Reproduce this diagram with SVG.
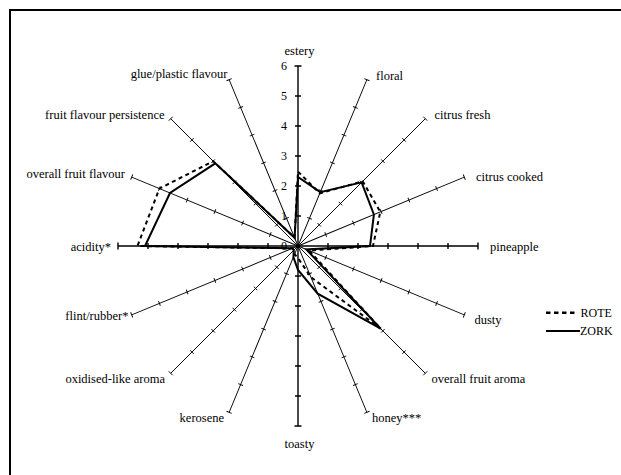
<svg xmlns="http://www.w3.org/2000/svg" xmlns:xlink="http://www.w3.org/1999/xlink" width="621" height="475" viewBox="0 0 621 475">
<style>
text{font-family:"Liberation Serif","Times New Roman",serif;font-size:12.5px;fill:#000}
.sc{font-size:12px}
.ax{stroke:#000;stroke-width:0.9;fill:none}
.axm{stroke:#000;stroke-width:1.4;fill:none}
.zork{fill:none;stroke:#000;stroke-width:2;stroke-linejoin:miter}
.rote{fill:none;stroke:#000;stroke-width:2;stroke-dasharray:4 3.5}
</style>
<defs>
<g id="axis">
<path class="ax" d="M0,0H180M30,-2.5V2.5M60,-2.5V2.5M90,-2.5V2.5M120,-2.5V2.5M150,-2.5V2.5M180,-2.8V2.8"/>
</g>
<g id="axisM">
<path class="axm" d="M0,0H180M30,-3V3M60,-3V3M90,-3V3M120,-3V3M150,-3V3M180,-3.5V3.5"/>
</g>
</defs>
<rect x="10" y="10" width="640" height="500" fill="#fff" stroke="#000" stroke-width="2"/>
<g id="axes">
<use xlink:href="#axisM" transform="translate(298,246) rotate(-90)"/>
<use xlink:href="#axis" transform="translate(298,246) rotate(-67.5)"/>
<use xlink:href="#axis" transform="translate(298,246) rotate(-45)"/>
<use xlink:href="#axis" transform="translate(298,246) rotate(-22.5)"/>
<use xlink:href="#axisM" transform="translate(298,246) rotate(0)"/>
<use xlink:href="#axis" transform="translate(298,246) rotate(22.5)"/>
<use xlink:href="#axis" transform="translate(298,246) rotate(45)"/>
<use xlink:href="#axis" transform="translate(298,246) rotate(67.5)"/>
<use xlink:href="#axisM" transform="translate(298,246) rotate(90)"/>
<use xlink:href="#axis" transform="translate(298,246) rotate(112.5)"/>
<use xlink:href="#axis" transform="translate(298,246) rotate(135)"/>
<use xlink:href="#axis" transform="translate(298,246) rotate(157.5)"/>
<use xlink:href="#axisM" transform="translate(298,246) rotate(180)"/>
<use xlink:href="#axis" transform="translate(298,246) rotate(202.5)"/>
<use xlink:href="#axis" transform="translate(298,246) rotate(225)"/>
<use xlink:href="#axis" transform="translate(298,246) rotate(247.5)"/>
</g>
<g id="scale" text-anchor="end">
<text class="sc" x="287" y="250">0</text>
<text class="sc" x="287" y="220">1</text>
<text class="sc" x="287" y="190">2</text>
<text class="sc" x="287" y="160">3</text>
<text class="sc" x="287" y="130">4</text>
<text class="sc" x="287" y="100">5</text>
<text class="sc" x="287" y="70">6</text>
</g>
<g id="connectors">
<polygon id="series-rote" class="rote" points="298,171.6 319.8,193.3 362.7,181.3 380.3,211.9 373,246 309.1,250.6 380.7,328.7 311,277.3 298,258 294.6,254.3 293.8,250.2 292.5,248.3 137.5,246 159.4,188.6 213.2,161.2 294.6,237.7"/>
<polygon id="series-zork" class="zork" points="298,177 320.3,192.2 361.6,182.4 373.9,214.5 370,246 306.3,249.4 380.7,328.7 317.7,293.7 298,270 293.4,257.1 293.8,250.2 292.5,248.3 145,246 170,193 215.3,163.3 294.6,237.7"/>
</g>
<g id="labels">
<text x="299.5" y="54.5" text-anchor="middle">estery</text>
<text x="376" y="79.5">floral</text>
<text x="434.5" y="118.5">citrus fresh</text>
<text x="476" y="180.5">citrus cooked</text>
<text x="490" y="250.5">pineapple</text>
<text x="474.5" y="323.5">dusty</text>
<text x="431.5" y="382.5">overall fruit aroma</text>
<text x="372" y="422">honey***</text>
<text x="299.5" y="447.5" text-anchor="middle">toasty</text>
<text x="224" y="422" text-anchor="end">kerosene</text>
<text x="165" y="382.5" text-anchor="end">oxidised-like aroma</text>
<text x="128.5" y="319.5" text-anchor="end">flint/rubber*</text>
<text x="111" y="250.5" text-anchor="end">acidity*</text>
<text x="125" y="177.5" text-anchor="end">overall fruit flavour</text>
<text x="164.5" y="118.5" text-anchor="end">fruit flavour persistence</text>
<text x="227.5" y="77.5" text-anchor="end">glue/plastic flavour</text>
</g>
<g id="legend">
<line x1="546" y1="312.7" x2="575" y2="312.7" stroke="#000" stroke-width="2.6" stroke-dasharray="4.5 3.5"/>
<text class="sc" x="580.5" y="317">ROTE</text>
<line x1="546" y1="331" x2="580" y2="331" stroke="#000" stroke-width="2"/>
<text class="sc" x="580" y="335">ZORK</text>
</g>
</svg>
